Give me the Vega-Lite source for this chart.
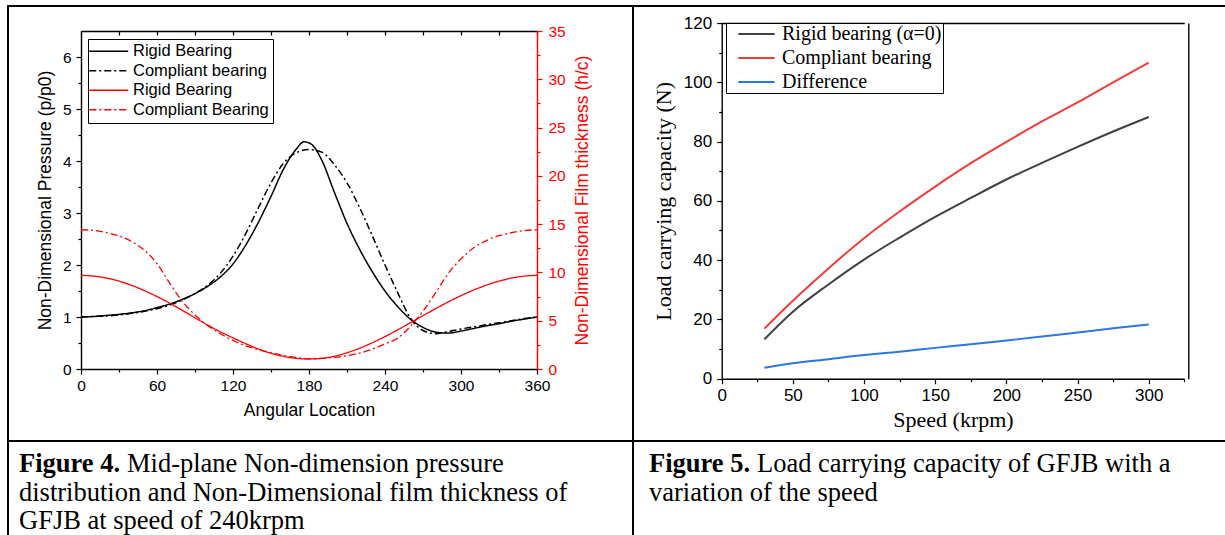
{
  "$schema": "https://vega.github.io/schema/vega-lite/v6.json",
  "background": "white",
  "padding": {"left": 7, "top": 5, "right": 0, "bottom": 0},
  "columns": 2,
  "spacing": 0,
  "bounds": "flush",
  "resolve": {"scale": {"color": "independent", "strokeDash": "independent"}, "legend": {"color": "independent", "strokeDash": "independent"}},
  "datasets": {
    "pr": [
      {"angle": 0, "value": 1.0, "series": "pr"}, {"angle": 10, "value": 1.01, "series": "pr"}, {"angle": 20, "value": 1.03, "series": "pr"}, {"angle": 30, "value": 1.05, "series": "pr"},
      {"angle": 40, "value": 1.08, "series": "pr"}, {"angle": 50, "value": 1.12, "series": "pr"}, {"angle": 60, "value": 1.18, "series": "pr"}, {"angle": 70, "value": 1.25, "series": "pr"},
      {"angle": 80, "value": 1.34, "series": "pr"}, {"angle": 90, "value": 1.45, "series": "pr"}, {"angle": 100, "value": 1.59, "series": "pr"}, {"angle": 110, "value": 1.77, "series": "pr"},
      {"angle": 120, "value": 2.02, "series": "pr"}, {"angle": 130, "value": 2.38, "series": "pr"}, {"angle": 140, "value": 2.82, "series": "pr"}, {"angle": 150, "value": 3.32, "series": "pr"},
      {"angle": 160, "value": 3.85, "series": "pr"}, {"angle": 170, "value": 4.23, "series": "pr"}, {"angle": 176, "value": 4.37, "series": "pr"}, {"angle": 182, "value": 4.32, "series": "pr"},
      {"angle": 190, "value": 4.02, "series": "pr"}, {"angle": 200, "value": 3.4, "series": "pr"}, {"angle": 210, "value": 2.8, "series": "pr"}, {"angle": 220, "value": 2.3, "series": "pr"},
      {"angle": 230, "value": 1.87, "series": "pr"}, {"angle": 240, "value": 1.5, "series": "pr"}, {"angle": 250, "value": 1.2, "series": "pr"}, {"angle": 260, "value": 0.96, "series": "pr"},
      {"angle": 270, "value": 0.8, "series": "pr"}, {"angle": 280, "value": 0.71, "series": "pr"}, {"angle": 290, "value": 0.69, "series": "pr"}, {"angle": 300, "value": 0.73, "series": "pr"},
      {"angle": 310, "value": 0.78, "series": "pr"}, {"angle": 320, "value": 0.83, "series": "pr"}, {"angle": 330, "value": 0.87, "series": "pr"}, {"angle": 340, "value": 0.92, "series": "pr"},
      {"angle": 350, "value": 0.96, "series": "pr"}, {"angle": 360, "value": 1.0, "series": "pr"}
    ],
    "pc": [
      {"angle": 0, "value": 1.0, "series": "pc"}, {"angle": 10, "value": 1.01, "series": "pc"}, {"angle": 20, "value": 1.02, "series": "pc"}, {"angle": 30, "value": 1.04, "series": "pc"},
      {"angle": 40, "value": 1.07, "series": "pc"}, {"angle": 50, "value": 1.11, "series": "pc"}, {"angle": 60, "value": 1.16, "series": "pc"}, {"angle": 70, "value": 1.23, "series": "pc"},
      {"angle": 80, "value": 1.33, "series": "pc"}, {"angle": 90, "value": 1.45, "series": "pc"}, {"angle": 100, "value": 1.61, "series": "pc"}, {"angle": 110, "value": 1.84, "series": "pc"},
      {"angle": 120, "value": 2.17, "series": "pc"}, {"angle": 130, "value": 2.6, "series": "pc"}, {"angle": 140, "value": 3.1, "series": "pc"}, {"angle": 150, "value": 3.58, "series": "pc"},
      {"angle": 160, "value": 3.96, "series": "pc"}, {"angle": 170, "value": 4.16, "series": "pc"}, {"angle": 180, "value": 4.22, "series": "pc"}, {"angle": 190, "value": 4.17, "series": "pc"},
      {"angle": 200, "value": 3.93, "series": "pc"}, {"angle": 210, "value": 3.58, "series": "pc"}, {"angle": 220, "value": 3.1, "series": "pc"}, {"angle": 230, "value": 2.56, "series": "pc"},
      {"angle": 240, "value": 2.0, "series": "pc"}, {"angle": 250, "value": 1.47, "series": "pc"}, {"angle": 260, "value": 0.98, "series": "pc"}, {"angle": 270, "value": 0.74, "series": "pc"},
      {"angle": 280, "value": 0.68, "series": "pc"}, {"angle": 290, "value": 0.72, "series": "pc"}, {"angle": 300, "value": 0.77, "series": "pc"}, {"angle": 310, "value": 0.81, "series": "pc"},
      {"angle": 320, "value": 0.85, "series": "pc"}, {"angle": 330, "value": 0.89, "series": "pc"}, {"angle": 340, "value": 0.93, "series": "pc"}, {"angle": 350, "value": 0.97, "series": "pc"},
      {"angle": 360, "value": 1.0, "series": "pc"}
    ],
    "hr": [
      {"angle": 0, "value": 9.7, "series": "hr"}, {"angle": 10, "value": 9.62, "series": "hr"}, {"angle": 20, "value": 9.42, "series": "hr"}, {"angle": 30, "value": 9.1, "series": "hr"},
      {"angle": 40, "value": 8.66, "series": "hr"}, {"angle": 50, "value": 8.12, "series": "hr"}, {"angle": 60, "value": 7.5, "series": "hr"}, {"angle": 70, "value": 6.82, "series": "hr"},
      {"angle": 80, "value": 6.08, "series": "hr"}, {"angle": 90, "value": 5.3, "series": "hr"}, {"angle": 100, "value": 4.55, "series": "hr"}, {"angle": 110, "value": 3.85, "series": "hr"},
      {"angle": 120, "value": 3.22, "series": "hr"}, {"angle": 130, "value": 2.62, "series": "hr"}, {"angle": 140, "value": 2.08, "series": "hr"}, {"angle": 150, "value": 1.63, "series": "hr"},
      {"angle": 160, "value": 1.3, "series": "hr"}, {"angle": 170, "value": 1.1, "series": "hr"}, {"angle": 180, "value": 1.04, "series": "hr"}, {"angle": 190, "value": 1.1, "series": "hr"},
      {"angle": 200, "value": 1.32, "series": "hr"}, {"angle": 210, "value": 1.68, "series": "hr"}, {"angle": 220, "value": 2.15, "series": "hr"}, {"angle": 230, "value": 2.72, "series": "hr"},
      {"angle": 240, "value": 3.35, "series": "hr"}, {"angle": 250, "value": 4.05, "series": "hr"}, {"angle": 260, "value": 4.78, "series": "hr"}, {"angle": 270, "value": 5.52, "series": "hr"},
      {"angle": 280, "value": 6.25, "series": "hr"}, {"angle": 290, "value": 6.95, "series": "hr"}, {"angle": 300, "value": 7.6, "series": "hr"}, {"angle": 310, "value": 8.18, "series": "hr"},
      {"angle": 320, "value": 8.68, "series": "hr"}, {"angle": 330, "value": 9.1, "series": "hr"}, {"angle": 340, "value": 9.42, "series": "hr"}, {"angle": 350, "value": 9.62, "series": "hr"},
      {"angle": 360, "value": 9.7, "series": "hr"}
    ],
    "hc": [
      {"angle": 0, "value": 14.42, "series": "hc"}, {"angle": 10, "value": 14.35, "series": "hc"}, {"angle": 20, "value": 14.12, "series": "hc"}, {"angle": 30, "value": 13.78, "series": "hc"},
      {"angle": 40, "value": 13.2, "series": "hc"}, {"angle": 50, "value": 12.3, "series": "hc"}, {"angle": 60, "value": 10.9, "series": "hc"}, {"angle": 70, "value": 8.9, "series": "hc"},
      {"angle": 80, "value": 7.0, "series": "hc"}, {"angle": 90, "value": 5.6, "series": "hc"}, {"angle": 100, "value": 4.5, "series": "hc"}, {"angle": 110, "value": 3.65, "series": "hc"},
      {"angle": 120, "value": 2.95, "series": "hc"}, {"angle": 130, "value": 2.4, "series": "hc"}, {"angle": 140, "value": 2.0, "series": "hc"}, {"angle": 150, "value": 1.7, "series": "hc"},
      {"angle": 160, "value": 1.4, "series": "hc"}, {"angle": 170, "value": 1.2, "series": "hc"}, {"angle": 180, "value": 1.05, "series": "hc"}, {"angle": 190, "value": 1.1, "series": "hc"},
      {"angle": 200, "value": 1.2, "series": "hc"}, {"angle": 210, "value": 1.38, "series": "hc"}, {"angle": 220, "value": 1.65, "series": "hc"}, {"angle": 230, "value": 2.05, "series": "hc"},
      {"angle": 240, "value": 2.6, "series": "hc"}, {"angle": 250, "value": 3.2, "series": "hc"}, {"angle": 260, "value": 4.4, "series": "hc"}, {"angle": 270, "value": 6.0, "series": "hc"},
      {"angle": 280, "value": 7.9, "series": "hc"}, {"angle": 290, "value": 9.9, "series": "hc"}, {"angle": 300, "value": 11.4, "series": "hc"}, {"angle": 310, "value": 12.55, "series": "hc"},
      {"angle": 320, "value": 13.3, "series": "hc"}, {"angle": 330, "value": 13.8, "series": "hc"}, {"angle": 340, "value": 14.12, "series": "hc"}, {"angle": 350, "value": 14.33, "series": "hc"},
      {"angle": 360, "value": 14.42, "series": "hc"}
    ],
    "rigid": [
      {"speed": 30, "load": 13.3, "series": "rigid"}, {"speed": 50, "load": 22.6, "series": "rigid"}, {"speed": 75, "load": 31.8, "series": "rigid"}, {"speed": 100, "load": 40.2, "series": "rigid"},
      {"speed": 125, "load": 47.6, "series": "rigid"}, {"speed": 150, "load": 54.6, "series": "rigid"}, {"speed": 175, "load": 61.0, "series": "rigid"}, {"speed": 200, "load": 67.2, "series": "rigid"},
      {"speed": 225, "load": 72.8, "series": "rigid"}, {"speed": 250, "load": 78.2, "series": "rigid"}, {"speed": 275, "load": 83.4, "series": "rigid"}, {"speed": 300, "load": 88.3, "series": "rigid"}
    ],
    "compliant": [
      {"speed": 30, "load": 16.9, "series": "compliant"}, {"speed": 50, "load": 26.3, "series": "compliant"}, {"speed": 75, "load": 37.2, "series": "compliant"}, {"speed": 100, "load": 47.4, "series": "compliant"},
      {"speed": 125, "load": 56.4, "series": "compliant"}, {"speed": 150, "load": 64.8, "series": "compliant"}, {"speed": 175, "load": 72.7, "series": "compliant"}, {"speed": 200, "load": 79.9, "series": "compliant"},
      {"speed": 225, "load": 86.8, "series": "compliant"}, {"speed": 250, "load": 93.2, "series": "compliant"}, {"speed": 275, "load": 100.0, "series": "compliant"}, {"speed": 300, "load": 106.6, "series": "compliant"}
    ],
    "difference": [
      {"speed": 30, "load": 3.7, "series": "difference"}, {"speed": 50, "load": 5.2, "series": "difference"}, {"speed": 75, "load": 6.6, "series": "difference"}, {"speed": 100, "load": 8.0, "series": "difference"},
      {"speed": 125, "load": 9.1, "series": "difference"}, {"speed": 150, "load": 10.4, "series": "difference"}, {"speed": 175, "load": 11.6, "series": "difference"}, {"speed": 200, "load": 12.9, "series": "difference"},
      {"speed": 225, "load": 14.2, "series": "difference"}, {"speed": 250, "load": 15.6, "series": "difference"}, {"speed": 275, "load": 17.0, "series": "difference"}, {"speed": 300, "load": 18.3, "series": "difference"}
    ],
    "capL": [
      {"line": 1, "part": "head", "text": "Figure 4."},
      {"line": 1, "part": "lead", "text": "Mid-plane Non-dimension pressure"},
      {"line": 2, "part": "body", "text": "distribution and Non-Dimensional film thickness of"},
      {"line": 3, "part": "body", "text": "GFJB at speed of 240krpm"}
    ],
    "capR": [
      {"line": 1, "part": "head", "text": "Figure 5."},
      {"line": 1, "part": "lead", "text": "Load carrying capacity of GFJB with a"},
      {"line": 2, "part": "body", "text": "variation of the speed"}
    ]
  },
  "concat": [
    {
      "width": 625,
      "height": 435,
      "layer": [
        {
          "data": {"name": "pr"},
          "mark": {"type": "line", "strokeWidth": 1.5, "interpolate": "monotone"},
          "encoding": {
            "x": {"field": "angle", "type": "quantitative", "scale": {"domain": [0, 360], "range": [73, 529], "nice": false, "zero": false},
              "axis": {"orient": "bottom", "offset": -72, "values": [0, 60, 120, 180, 240, 300, 360], "tickSize": 5, "labelFontSize": 15.5, "labelPadding": 4, "title": "Angular Location", "titleFontSize": 17.5, "titlePadding": 8}},
            "y": {"field": "value", "type": "quantitative", "scale": {"domain": [0, 6.5], "range": [363, 25], "nice": false, "zero": false},
              "axis": {"orient": "left", "offset": -73, "values": [0, 1, 2, 3, 4, 5, 6], "tickSize": 5, "labelFontSize": 15.5, "labelPadding": 5, "title": "Non-Dimensional Pressure (p/p0)", "titleFontSize": 17.5, "titlePadding": 8}},
            "color": {"field": "series", "type": "nominal", "scale": {"domain": ["pr", "pc", "hr", "hc"], "range": ["#000000", "#000000", "#ff0000", "#ff0000"]},
              "legend": {"title": null, "orient": "none", "legendX": 80, "legendY": 33, "strokeColor": "#000000", "fillColor": "#ffffff", "padding": 4, "labelFont": "Liberation Sans", "labelFontSize": 16.5, "labelColor": "#000000", "symbolType": "M-3.9,0H3.9", "symbolSize": 100, "symbolStrokeWidth": 1.5, "symbolOffset": 8.5, "labelOffset": 16, "rowPadding": 2.5, "labelExpr": "datum.label=='pr'?'Rigid Bearing':datum.label=='pc'?'Compliant bearing':datum.label=='hr'?'Rigid Bearing':'Compliant Bearing'"}},
            "strokeDash": {"field": "series", "type": "nominal", "scale": {"domain": ["pr", "pc", "hr", "hc"], "range": [[1, 0], [7, 3, 2, 3], [1, 0], [7, 3, 2, 3]]},
              "legend": {"title": null, "orient": "none", "legendX": 80, "legendY": 33, "strokeColor": "#000000", "fillColor": "#ffffff", "padding": 4, "labelFont": "Liberation Sans", "labelFontSize": 16.5, "labelColor": "#000000", "symbolType": "M-3.9,0H3.9", "symbolSize": 100, "symbolStrokeWidth": 1.5, "symbolOffset": 8.5, "labelOffset": 16, "rowPadding": 2.5, "labelExpr": "datum.label=='pr'?'Rigid Bearing':datum.label=='pc'?'Compliant bearing':datum.label=='hr'?'Rigid Bearing':'Compliant Bearing'"}}
          }
        },
        {
          "data": {"name": "pc"},
          "mark": {"type": "line", "strokeWidth": 1.5, "interpolate": "monotone"},
          "encoding": {
            "x": {"field": "angle", "type": "quantitative", "scale": {"domain": [0, 360], "range": [73, 529], "nice": false, "zero": false},
              "axis": {"orient": "bottom", "offset": -72, "values": [30, 90, 150, 210, 270, 330], "tickSize": 3, "labels": false, "domain": false, "title": null}},
            "y": {"field": "value", "type": "quantitative", "scale": {"domain": [0, 6.5], "range": [363, 25], "nice": false, "zero": false},
              "axis": {"orient": "left", "offset": -73, "values": [0.5, 1.5, 2.5, 3.5, 4.5, 5.5], "tickSize": 3, "labels": false, "domain": false, "title": null}},
            "color": {"field": "series", "type": "nominal"},
            "strokeDash": {"field": "series", "type": "nominal"}
          }
        },
        {
          "data": {"name": "hr"},
          "mark": {"type": "line", "strokeWidth": 1.3, "interpolate": "monotone"},
          "encoding": {
            "x": {"field": "angle", "type": "quantitative", "scale": {"domain": [0, 360], "range": [73, 529], "nice": false, "zero": false},
              "axis": {"orient": "top", "offset": -25, "values": [0, 30, 60, 90, 120, 150, 180, 210, 240, 270, 300, 330, 360], "tickSize": -4, "labels": false, "title": null}},
            "y": {"field": "value", "type": "quantitative", "scale": {"domain": [0, 35], "range": [363, 25], "nice": false, "zero": false},
              "axis": {"orient": "right", "offset": -96, "values": [0, 5, 10, 15, 20, 25, 30, 35], "tickSize": 5, "labelFontSize": 15.5, "labelPadding": 6, "title": "Non-Dimensional Film thickness (h/c)", "titleFontSize": 17.5, "titlePadding": 8, "titleAngle": 270, "titleBaseline": "top", "domainColor": "#ff0000", "tickColor": "#ff0000", "labelColor": "#ff0000", "titleColor": "#ff0000"}},
            "color": {"field": "series", "type": "nominal"},
            "strokeDash": {"field": "series", "type": "nominal"}
          }
        },
        {
          "data": {"name": "hc"},
          "mark": {"type": "line", "strokeWidth": 1.3, "interpolate": "monotone"},
          "encoding": {
            "x": {"field": "angle", "type": "quantitative", "scale": {"domain": [0, 360], "range": [73, 529], "nice": false, "zero": false}, "axis": null},
            "y": {"field": "value", "type": "quantitative", "scale": {"domain": [0, 35], "range": [363, 25], "nice": false, "zero": false},
              "axis": {"orient": "right", "offset": -96, "values": [2.5, 7.5, 12.5, 17.5, 22.5, 27.5, 32.5], "tickSize": 3, "labels": false, "domain": false, "title": null, "tickColor": "#ff0000"}},
            "color": {"field": "series", "type": "nominal"},
            "strokeDash": {"field": "series", "type": "nominal"}
          }
        }
      ],
      "resolve": {"scale": {"y": "independent"}, "axis": {"x": "independent", "y": "independent"}}
    },
    {
      "width": 596,
      "height": 435,
      "layer": [
        {
          "data": {"name": "rigid"},
          "mark": {"type": "line", "strokeWidth": 2, "interpolate": "monotone"},
          "encoding": {
            "x": {"field": "speed", "type": "quantitative", "scale": {"domain": [0, 325], "range": [88.7, 551.3], "nice": false, "zero": false},
              "axis": {"orient": "bottom", "offset": -62.3, "values": [0, 50, 100, 150, 200, 250, 300], "tickSize": 5, "labelFontSize": 17, "labelPadding": 4, "title": "Speed (krpm)", "titleFont": "Liberation Serif", "titleFontSize": 22, "titlePadding": 6}},
            "y": {"field": "load", "type": "quantitative", "scale": {"domain": [0, 120], "range": [372.7, 17], "nice": false, "zero": false},
              "axis": {"orient": "left", "offset": -88.7, "values": [0, 20, 40, 60, 80, 100, 120], "tickSize": 5, "labelFontSize": 17, "labelPadding": 5, "title": "Load carrying capacity (N)", "titleFont": "Liberation Serif", "titleFontSize": 22, "titlePadding": 8}},
            "color": {"field": "series", "type": "nominal", "scale": {"domain": ["rigid", "compliant", "difference"], "range": ["#404040", "#f23c3c", "#2b77e0"]},
              "legend": {"title": null, "orient": "none", "legendX": 93, "legendY": 17, "strokeColor": "#000000", "fillColor": "#ffffff", "padding": 1, "labelFont": "Liberation Serif", "labelFontSize": 20, "labelColor": "#000000", "symbolType": "M-3.63,0H3.63", "symbolSize": 100, "symbolStrokeWidth": 2, "symbolOffset": 19.5, "labelOffset": 15.5, "rowPadding": 4, "labelExpr": "datum.label=='rigid'?'Rigid bearing (α=0)':datum.label=='compliant'?'Compliant bearing':'Difference'"}}
          }
        },
        {
          "data": {"name": "compliant"},
          "mark": {"type": "line", "strokeWidth": 2, "interpolate": "monotone"},
          "encoding": {
            "x": {"field": "speed", "type": "quantitative", "scale": {"domain": [0, 325], "range": [88.7, 551.3], "nice": false, "zero": false},
              "axis": {"orient": "bottom", "offset": -62.3, "values": [25, 75, 125, 175, 225, 275, 325], "tickSize": 3, "labels": false, "domain": false, "title": null}},
            "y": {"field": "load", "type": "quantitative", "scale": {"domain": [0, 120], "range": [372.7, 17], "nice": false, "zero": false},
              "axis": {"orient": "left", "offset": -88.7, "values": [10, 30, 50, 70, 90, 110], "tickSize": 3, "labels": false, "domain": false, "title": null}},
            "color": {"field": "series", "type": "nominal"}
          }
        },
        {
          "data": {"name": "difference"},
          "mark": {"type": "line", "strokeWidth": 2, "interpolate": "monotone"},
          "encoding": {
            "x": {"field": "speed", "type": "quantitative", "scale": {"domain": [0, 325], "range": [88.7, 551.3], "nice": false, "zero": false},
              "axis": {"orient": "top", "offset": -17, "ticks": false, "labels": false, "title": null}},
            "y": {"field": "load", "type": "quantitative", "scale": {"domain": [0, 120], "range": [372.7, 17], "nice": false, "zero": false},
              "axis": {"orient": "right", "offset": -40.7, "ticks": false, "labels": false, "title": null}},
            "color": {"field": "series", "type": "nominal"}
          }
        }
      ],
      "resolve": {"axis": {"x": "independent", "y": "independent"}}
    },
    {
      "width": 625,
      "height": 100,
      "data": {"name": "capL"},
      "encoding": {
        "x": {"datum": 0, "type": "quantitative", "scale": {"domain": [0, 1], "nice": false}, "axis": null},
        "y": {"field": "line", "type": "quantitative", "scale": {"domain": [-0.09, 3.42], "reverse": true, "nice": false, "zero": false}, "axis": null},
        "text": {"field": "text", "type": "nominal"}
      },
      "layer": [
        {"transform": [{"filter": "datum.part === 'head'"}], "mark": {"type": "text", "font": "Liberation Serif", "fontSize": 26.5, "fontWeight": "bold", "align": "left", "baseline": "alphabetic", "dx": 11, "color": "#000000"}},
        {"transform": [{"filter": "datum.part === 'lead'"}], "mark": {"type": "text", "font": "Liberation Serif", "fontSize": 26.5, "align": "left", "baseline": "alphabetic", "dx": 119, "color": "#000000"}},
        {"transform": [{"filter": "datum.part === 'body'"}], "mark": {"type": "text", "font": "Liberation Serif", "fontSize": 26.5, "align": "left", "baseline": "alphabetic", "dx": 11, "color": "#000000"}}
      ]
    },
    {
      "width": 596,
      "height": 100,
      "data": {"name": "capR"},
      "encoding": {
        "x": {"datum": 0, "type": "quantitative", "scale": {"domain": [0, 1], "nice": false}, "axis": null},
        "y": {"field": "line", "type": "quantitative", "scale": {"domain": [-0.09, 3.42], "reverse": true, "nice": false, "zero": false}, "axis": null},
        "text": {"field": "text", "type": "nominal"}
      },
      "layer": [
        {"transform": [{"filter": "datum.part === 'head'"}], "mark": {"type": "text", "font": "Liberation Serif", "fontSize": 26.5, "fontWeight": "bold", "align": "left", "baseline": "alphabetic", "dx": 16, "color": "#000000"}},
        {"transform": [{"filter": "datum.part === 'lead'"}], "mark": {"type": "text", "font": "Liberation Serif", "fontSize": 26.5, "align": "left", "baseline": "alphabetic", "dx": 124, "color": "#000000"}},
        {"transform": [{"filter": "datum.part === 'body'"}], "mark": {"type": "text", "font": "Liberation Serif", "fontSize": 26.5, "align": "left", "baseline": "alphabetic", "dx": 16, "color": "#000000"}}
      ]
    }
  ],
  "config": {
    "view": {"stroke": "#000000", "strokeWidth": 2},
    "font": "Liberation Sans",
    "axis": {"grid": false, "domainColor": "#000000", "tickColor": "#000000", "labelColor": "#000000", "titleColor": "#000000", "labelFont": "Liberation Sans", "titleFont": "Liberation Sans", "titleFontWeight": "normal", "domainWidth": 1.4, "tickWidth": 1.2, "labelFlush": false, "labelOverlap": false},
    "legend": {"labelLimit": 300}
  }
}
